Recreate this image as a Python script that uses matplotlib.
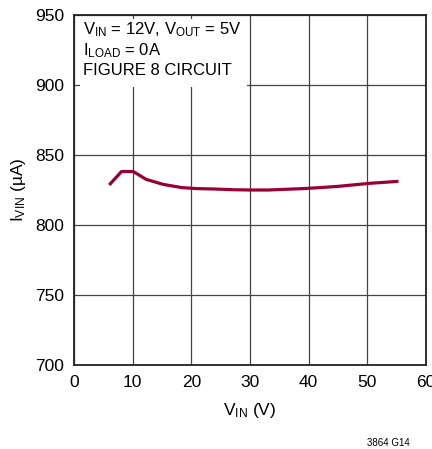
import matplotlib
matplotlib.use("Agg")
import matplotlib.pyplot as plt
from matplotlib.patches import Rectangle

fam = "Liberation Sans"
plt.rcParams['font.family'] = [fam, 'DejaVu Sans']
plt.rcParams['mathtext.fontset'] = 'custom'
plt.rcParams['mathtext.rm'] = fam
plt.rcParams['mathtext.it'] = fam
plt.rcParams['mathtext.default'] = 'regular'

vin = [6.0, 8.1, 10.1, 12.3, 15.2, 18.4, 20.9, 24.0, 27.2, 30.0, 33.1, 39.1, 41.9, 45.0, 50.5, 55.3]
ivin = [828.6, 838.2, 838.2, 832.6, 829.0, 826.7, 826.0, 825.7, 825.2, 825.0, 825.0, 826.0, 826.7, 827.6, 829.8, 831.2]
xticks = [0, 10, 20, 30, 40, 50, 60]
yticks = [700, 750, 800, 850, 900, 950]

fig = plt.figure(figsize=(4.32, 4.49), dpi=100)
ax = fig.add_axes([74/432, 1-365/449, 352/432, 350/449])
ax.set_xlim(0, 60)
ax.set_ylim(700, 950)
ax.set_xticks(xticks)
ax.set_yticks(yticks)
ax.grid(True, color='#444444', linewidth=0.9)
ax.set_axisbelow(True)
ax.tick_params(length=0, labelsize=12.5, pad=7)
for s in ax.spines.values():
    s.set_linewidth(1.3)
    s.set_color('#222222')

ax.plot(vin, ivin, color='#990033', linewidth=2.3, solid_capstyle='butt', zorder=3)

ax.set_xlabel('$V_{IN}$ (V)', fontsize=12.5, labelpad=8)
ax.set_ylabel('$I_{VIN}$ (µA)', fontsize=12.5, labelpad=5)

ax.add_patch(Rectangle((6/352, 1-72/350), 167/352, 68/350, transform=ax.transAxes,
                       facecolor='white', edgecolor='none', zorder=2.5))
ax.text(9/352, 1-5/350, '$V_{IN}$ = 12V, $V_{OUT}$ = 5V\n$I_{LOAD}$ = 0A\nFIGURE 8 CIRCUIT',
        transform=ax.transAxes, ha='left', va='top', fontsize=12, linespacing=1.2, zorder=4)

fig.text(410/432, 1-443/449, '3864 G14', ha='right', va='center', fontsize=7)

fig.savefig('out.png', dpi=100)
